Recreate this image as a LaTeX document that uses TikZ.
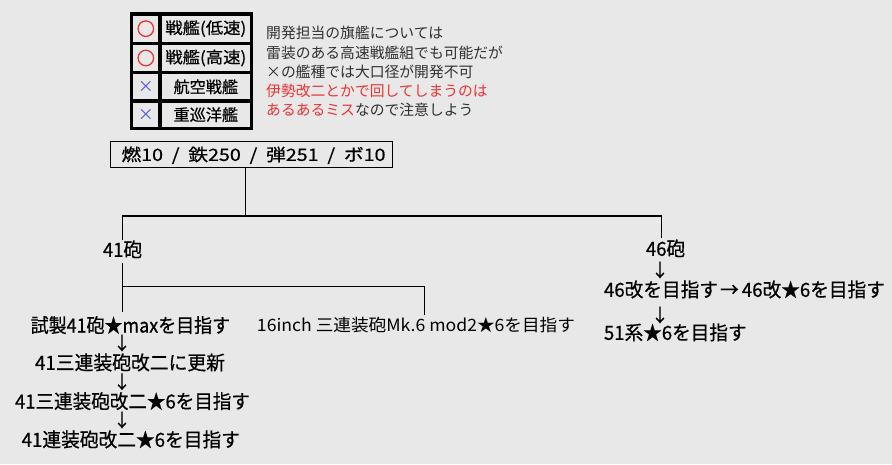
\documentclass[tikz,border=0pt]{standalone}
\usepackage{fontspec}
\usepackage{graphicx}
\setmainfont{Noto Sans CJK JP}
\newfontfamily\jp{Noto Sans CJK JP}
\newfontfamily\jpb[FakeBold=0.6]{Noto Sans CJK JP}
\newfontfamily\jpbb[FakeBold=3]{Noto Sans CJK JP}
\definecolor{bg}{HTML}{E8E8E8}
\definecolor{nred}{HTML}{EE3333}
\definecolor{xblue}{HTML}{5555DD}
\definecolor{ntext}{HTML}{303030}
\newcommand{\fitw}[2]{\resizebox{#1pt}{\height}{#2}}
\newcommand{\fitwt}[2]{\resizebox{#1pt}{1.08\height}{#2}}
\begin{document}
\begin{tikzpicture}[x=1pt,y=-1pt,
  conn/.style={draw=black,line width=1.3pt},
  lbl/.style={inner sep=0pt,font=\jpb\fontsize{18pt}{18pt}\selectfont,text height=14.9pt,text depth=1.3pt},
  lblr/.style={inner sep=0pt,font=\jp\fontsize{17pt}{17pt}\selectfont,text height=14.1pt,text depth=1.2pt},
  arr/.style={inner sep=0pt,font=\jpb\fontsize{18pt}{18pt}\selectfont,text height=14.9pt,text depth=1.3pt},
  note/.style={inner sep=0pt,anchor=base west,font=\jp\fontsize{14.8pt}{14.8pt}\selectfont,text=ntext},
  cell/.style={draw=black,line width=3.3pt,inner sep=0pt,font=\jpb\fontsize{16pt}{16pt}\selectfont},
  okmark/.style={font=\jpbb\fontsize{18pt}{18pt}\selectfont,text=nred},
  ngmark/.style={font=\jp\fontsize{16pt}{16pt}\selectfont,text=xblue},
]
\fill[bg] (0,0) rectangle (892,464);
\useasboundingbox (0,0) rectangle (892,464);

% table
\node[cell,okmark,minimum width=28.3pt,minimum height=29.3pt] (s1) at (145.85,28.65) {○};
\node[cell,minimum width=91.7pt,minimum height=29.3pt] (t1) at (205.85,28.65) {\fitw{81}{戦艦(低速)}};
\node[cell,okmark,minimum width=28.3pt,minimum height=29.4pt] (s2) at (145.85,58) {○};
\node[cell,minimum width=91.7pt,minimum height=29.4pt] (t2) at (205.85,58) {\fitw{81}{戦艦(高速)}};
\node[cell,ngmark,minimum width=28.3pt,minimum height=28.3pt] (s3) at (145.85,86.85) {×};
\node[cell,minimum width=91.7pt,minimum height=28.3pt] (t3) at (205.85,86.85) {\fitw{64.6}{航空戦艦}};
\node[cell,ngmark,minimum width=28.3pt,minimum height=27.3pt] (s4) at (145.85,114.65) {×};
\node[cell,minimum width=91.7pt,minimum height=27.3pt] (t4) at (205.85,114.65) {\fitw{64.6}{重巡洋艦}};

% note
\node[note] (m1) at (266,38.9) {開発担当の旗艦については};
\node[note] (m2) at (266,58.0) {雷装のある高速戦艦組でも可能だが};
\node[note] (m3) at (266,77.1) {×の艦種では大口径が開発不可};
\node[note] (m4) at (266,96.2) {\textcolor{nred}{伊勢改二とかで回してしまうのは}};
\node[note] (m5) at (266,115.3) {\textcolor{nred}{あるあるミス}なので注意しよう};

% resources
\node[draw=black,line width=1.3pt,inner sep=0pt,minimum width=281.6pt,minimum height=25.6pt,
  font=\jpb\fontsize{17pt}{17pt}\selectfont,text height=14pt,text depth=1.2pt] (res) at (251.5,154.5)
  {\hspace*{4pt}\fitw{264}{燃10\ \ /\ \ 鉄250\ \ /\ \ 弾251\ \ /\ \ ボ10}};

\coordinate (topc) at (0,216);
\coordinate (midc) at (0,286.7);

% labels
\node[lbl] (n41) at (122.5,250) {\fitwt{39}{41砲}};
\node[lbl] (n46) at (665.5,249) {\fitwt{39}{46砲}};

\node[lbl] (trial) at (130.4,325.7) {\fitwt{199.3}{試製41砲★maxを目指す}};
\node[arr] (a1) at (122,343) {↓};
\node[lbl] (upd) at (130,363) {\fitwt{190}{41三連装砲改二に更新}};
\node[arr] (a2) at (122,381.7) {↓};
\node[lbl] (k3) at (132.5,401.7) {\fitwt{235}{41三連装砲改二★6を目指す}};
\node[arr] (a3) at (122,420) {↓};
\node[lbl] (k2) at (130.8,440) {\fitwt{218.3}{41連装砲改二★6を目指す}};

\node[lblr] (inch) at (416,325) {\fitw{318}{16inch 三連装砲Mk.6 mod2★6を目指す}};

\node[arr] (a4) at (660,270) {↓};
\node[lbl] (kai) at (744.5,290) {\fitwt{281}{46改を目指す\hspace{2pt}→\hspace{3pt}46改★6を目指す}};
\node[arr] (a5) at (660,315) {↓};
\node[lbl] (s51) at (675.3,333) {\fitwt{142.7}{51系★6を目指す}};

% connectors
\draw[conn] ([xshift=-5.8pt]res.south) -- ([xshift=-5.8pt]res.south |- topc);
\draw[conn,shorten <=1.9pt,shorten >=2.9pt] (n41.north) -- (n41.north |- topc) -| ([xshift=-3.8pt]n46.north);
\draw[conn,shorten <=4.9pt,shorten >=5.9pt] (n41.south) -- (n41.south |- trial.north);
\draw[conn,shorten >=2.3pt] (n41.south |- midc) -| ([xshift=8.3pt]inch.north);
\end{tikzpicture}
\end{document}
